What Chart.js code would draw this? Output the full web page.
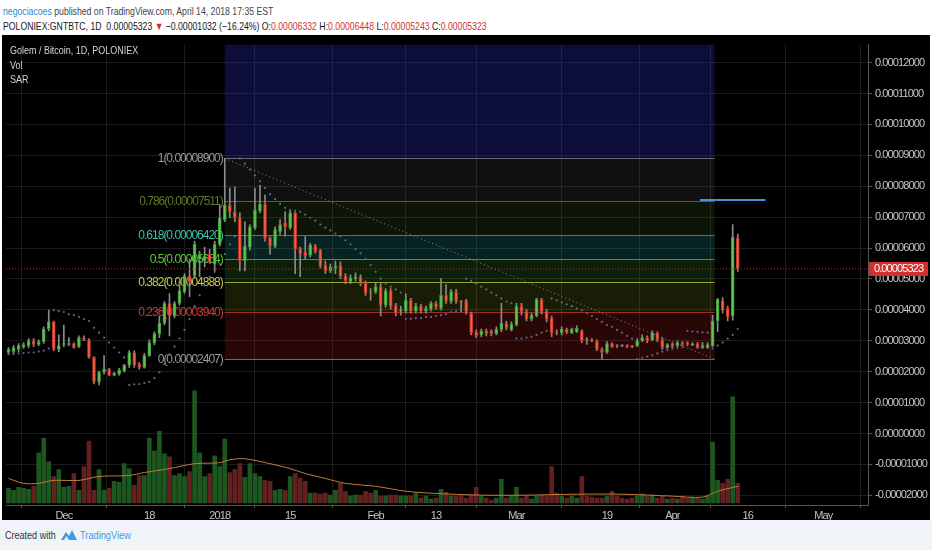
<!DOCTYPE html>
<html>
<head>
<meta charset="utf-8">
<script src="https://cdn.jsdelivr.net/npm/chart.js@4.4.1/dist/chart.umd.min.js"></script>
<style>
  body { margin:0; width:932px; height:550px; background:#fff; position:relative; overflow:hidden;
         font-family:"Liberation Sans",Arial,sans-serif; }
  .cond { transform-origin:0 0; white-space:nowrap; }
  #hdr1 { position:absolute; left:3px; top:4px; font-size:11px; line-height:14px; color:#444; transform:scaleX(0.79); }
  #hdr1 .u { color:#2a8bd8; }
  #hdr2 { position:absolute; left:3px; top:19px; font-size:11px; line-height:14px; color:#131722; transform:scaleX(0.79); }
  #hdr2 .r { color:#d32f2f; }
  #wrap { position:absolute; left:2px; top:35px; width:928px; height:485px; background:#000; }
  #legend { position:absolute; left:8px; top:8px; font-size:11.5px; line-height:14.5px; color:#d4d4d4; transform:scaleX(0.78); }
  #foot { position:absolute; left:0; top:520px; width:932px; height:30px; background:#f0f3f7; }
  #foot .t { position:absolute; left:5px; top:9px; font-size:10.5px; color:#333; transform:scaleX(0.86); }
  #foot svg { position:absolute; left:61px; top:9px; }
  #foot .tv { position:absolute; left:80px; top:9px; font-size:11px; color:#3d9ae8; transform:scaleX(0.84); }
</style>
</head>
<body>
<div id="hdr1" class="cond"><span class="u">negociacoes</span> published on TradingView.com, April 14, 2018 17:35 EST</div>
<div id="hdr2" class="cond">POLONIEX:GNTBTC, 1D&nbsp; 0.00005323 <span class="r">▼</span> −0.00001032 (−16.24%) O:<span class="r">0.00006332</span> H:<span class="r">0.00006448</span> L:<span class="r">0.00005243</span> C:<span class="r">0.00005323</span></div>
<div id="wrap">
  <canvas id="c" width="928" height="485"></canvas>
  <div id="legend" class="cond">Golem / Bitcoin, 1D, POLONIEX<br>Vol<br>SAR</div>
</div>
<div id="foot">
  <span class="t cond">Created with</span>
  <svg width="16" height="12" viewBox="0 0 16 12"><path d="M0 11 L5 3 L8 7 L11 1 L16 11 Z" fill="#3d9ae8"/><path d="M3 11 L5.5 7 L8 11 Z" fill="#f0f3f7"/></svg>
  <span class="tv cond">TradingView</span>
</div>
<script>
// day 0 = 1 Dec 2017, one candle per day; prices in satoshi (1e-8 BTC)
const firstDay = -11;

const open = [
  2620,2650,2720,2810,2840,3000,2880,2970,3380,3610,
  2720,2880,2880,2910,2810,3100,3030,2460,1670,1980,
  2080,1890,1920,2020,2210,2620,2240,2140,2520,2940,
  3230,3570,4210,3800,4210,4590,5100,5100,5640,5580,
  5800,5480,6120,6920,7390,7170,6980,5580,6030,6660,
  7200,7430,6340,6060,6530,6820,6660,7140,6000,5870,
  5770,6060,5930,5450,5260,5360,5450,5100,4910,5010,
  5070,4880,4590,4590,4750,4150,4620,4150,3960,3960,
  4310,3960,4120,3960,4020,4210,4050,4470,4270,4590,
  4270,4300,3890,3290,3190,3320,3320,3230,3350,3570,
  3350,3510,4120,3960,3700,3800,4340,3960,3730,3290,
  3260,3380,3260,3290,3320,3030,3020,3000,2720,2620,
  2910,2840,2840,2830,2830,2840,3000,3100,3030,3260,
  3030,2780,2910,2840,2940,2940,2890,2910,2780,2780,
  2840,3640,4300,4050,3800,6332
];
const high = [
  2780,2840,2910,2940,3070,3070,3030,3450,3990,3640,
  3190,3510,3100,2940,3160,3160,3070,2490,2020,2520,
  2110,1980,2110,2240,2680,2680,2300,2590,3030,3290,
  3800,4270,4530,4270,4940,5170,5640,6220,5900,6030,
  5960,6220,7390,8900,7940,7970,7140,6850,6760,7940,
  8030,7710,6370,6690,6920,7170,7200,7150,6030,6370,
  6150,6120,5960,5580,5480,5580,5550,5170,5130,5200,
  5130,4940,4690,4880,4850,4690,4690,4210,4120,4530,
  4370,4210,4180,4120,4270,4270,5010,4820,4660,4660,
  4300,4340,3930,3350,3380,3380,3350,3450,4210,3640,
  3610,4210,4210,4020,3890,4370,4370,4020,3800,3350,
  3450,3410,3410,3480,3350,3100,3070,3030,2780,2970,
  2940,2880,2880,2880,2840,3070,3190,3160,3320,3290,
  3100,2910,2940,3000,2970,2970,2940,2940,2940,2940,
  3830,4370,4400,4120,6760,6448
];
const low = [
  2560,2590,2650,2750,2780,2810,2840,2910,3320,2680,
  2650,2810,2840,2750,2780,3000,2430,1600,1570,1920,
  1860,1860,1890,1980,2140,2140,2080,2110,2490,2870,
  3100,3510,3160,3740,4150,4530,4430,5070,5070,5390,
  5500,5260,6060,6850,6980,6850,5260,5260,5930,6600,
  7140,6220,5800,6000,6440,6380,6600,5170,5070,5640,
  5710,5830,5360,5170,5200,5170,5010,4850,4850,4940,
  4780,4470,4310,4530,3800,4080,4020,3800,3830,3890,
  3890,3890,3890,3890,3960,4020,3990,4210,4210,4210,
  3930,3860,3190,3100,3130,3160,3160,3190,3290,3350,
  3320,3480,3830,3640,3640,3770,3860,3610,3130,3190,
  3190,3230,3230,3260,2940,2880,2970,2680,2407,2590,
  2780,2780,2810,2780,2780,2810,2970,2940,3000,2970,
  2720,2750,2780,2810,2840,2840,2840,2750,2750,2750,
  2810,3290,3890,3640,3670,5243
];
const close = [
  2720,2780,2840,2880,3000,2880,2970,3380,3610,2720,
  2840,2910,2910,2780,3100,3030,2460,1670,1980,2080,
  1890,1950,2050,2210,2620,2210,2140,2520,2940,3230,
  3570,4210,3800,4210,4620,5100,4910,6120,5800,5740,
  5550,6120,6980,7390,7170,6980,5580,6060,6690,7230,
  7430,6310,6060,6600,6760,6690,7140,5960,5800,5740,
  6090,5900,5420,5260,5390,5420,5070,4940,5040,5070,
  4850,4530,4560,4750,4150,4620,4110,3890,3990,4310,
  3960,4120,3960,4050,4210,4080,4470,4270,4590,4270,
  4260,3930,3260,3160,3320,3230,3230,3380,3570,3410,
  3540,4120,3930,3700,3830,4340,3930,3700,3260,3260,
  3380,3260,3380,3410,3000,3020,3000,2720,2620,2910,
  2810,2830,2830,2810,2810,3000,3100,3000,3260,3030,
  2780,2880,2810,2940,2880,2880,2890,2780,2840,2880,
  3640,4340,3980,3770,6355,5323
];
// volume, read as bar height (relative units)
const volume = [
  15,13,16,15,14,17,51,66,42,27,
  34,16,17,30,13,37,63,13,34,13,
  15,22,21,40,35,18,28,28,66,53,
  73,50,47,28,30,27,32,114,51,27,
  30,48,37,65,31,34,40,26,40,30,
  27,23,22,13,14,13,27,30,25,22,
  10,10,9,10,8,13,20,12,7,8,
  8,12,10,13,7,7,8,8,7,7,
  7,10,5,7,4,5,14,11,7,7,
  8,5,8,16,7,5,3,5,24,5,
  7,16,5,7,4,7,8,7,37,10,
  7,5,7,5,27,7,6,5,5,7,
  12,7,5,4,5,7,9,7,8,5,
  7,4,5,4,7,5,6,5,4,7,
  62,23,20,24,108,20
];
const volMaDays   = [-11,-8,-5,-2,3,7,13,16,21,26,31,33,36,41,45,48,52,56,62,68,73,83,92,102,111,121,127,130,134];
const volMaValues = [25,20,20,23,23,27,28,31,35,40,41,44,45,40,35,30,25,20,17,12,10,8,8,9,9,7,6,12,17];
// parabolic SAR, one value per candle
const sar = [
  2560,2570,2590,2600,2620,2620,2650,2680,2750,
  3990,3960,3930,3860,3830,3770,3700,3640,3420,3260,3100,2940,2780,2620,2460,
  1570,1590,1600,1630,1670,1790,1980,2240,2560,2810,3070,3350,3700,4120,4470,4790,5070,5230,5480,5800,6120,6380,
  8900,8730,8540,8350,8160,7940,7740,7580,7430,7300,7230,7200,7170,7080,6980,6890,6760,6660,6570,6470,6380,6250,6120,5960,5830,5640,5450,5230,5010,4850,4750,4660,4560,
  3710,3710,3730,3730,3770,3770,3800,3830,3860,3930,3960,4020,
  5010,4940,4850,4750,4660,4560,4470,4370,4270,4210,
  3070,3070,3100,3130,3190,3260,3320,
  4370,4310,4240,4180,4120,4050,3990,3890,3800,3700,3610,3510,3450,3350,3260,3160,3070,
  2407,2450,2490,2530,2590,2650,2700,2740,2770,2790,
  3320,3300,3290,3270,3260,
  2750,2840,2940,3070,3190,3380
];

// fib retracement drawn on the chart
const fibRatios = [1, 0.786, 0.618, 0.5, 0.382, 0.236, 0];
const fibPrices = [8900, 7511, 6420, 5654, 4888, 3940, 2407];
const fibLine   = ["#6a6a6a", "#52642a", "#2a8a7c", "#3e9a36", "#98a22c", "#a02c28", "#6a6a6a"];
const fibText   = ["#9a9a9a", "#5f7a2a", "#3cc2a4", "#5cc83c", "#c8cc3a", "#d03a34", "#9a9a9a"];
const fibFill   = ["rgba(110,110,110,0.15)", "rgba(90,150,40,0.15)", "rgba(30,160,150,0.22)",
                   "rgba(60,170,50,0.18)", "rgba(150,170,30,0.17)", "rgba(170,30,30,0.24)"];
const fibTopFill = "rgba(40,44,190,0.3)";
const fibDays = [32, 129.4];
const trendDays = [32, 129.4], trendPrices = [8900, 2407];
const targetDays = [126.5, 139.5], targetPrice = 7553;
const lastPrice = 5323;

const tickDays   = [0, 17, 31, 45, 62, 74, 90, 108, 121, 136, 151];
const tickLabels = ["Dec", "18", "2018", "15", "Feb", "13", "Mar", "19", "Apr", "16", "May"];
const priceTicks = [-2000,-1000,0,1000,2000,3000,4000,5000,6000,7000,8000,9000,10000,11000,12000];
const dayRange = [-11.5, 159.9], priceRange = [-2314, 12582];

const days = open.map((_, i) => firstDay + i);
const isUp = (i) => close[i] >= open[i];
const FONT = '"Liberation Sans",Arial,sans-serif';
const TIGHT = "-0.9px"; // no narrow font installed, squeeze the canvas text instead

const fibPlugin = {
  id: "fib",
  beforeDraw(chart) { chart.ctx.letterSpacing = TIGHT; },
  beforeDatasetsDraw(chart) {
    const { ctx, chartArea: a, scales: { x, y } } = chart;
    const x0 = x.getPixelForValue(fibDays[0]), x1 = x.getPixelForValue(fibDays[1]);
    ctx.save();
    ctx.beginPath(); ctx.rect(a.left, a.top, a.width, a.height); ctx.clip();
    ctx.fillStyle = fibTopFill;
    ctx.fillRect(x0, a.top, x1 - x0, y.getPixelForValue(fibPrices[0]) - a.top);
    for (let i = 0; i < fibFill.length; i++) {
      const t = y.getPixelForValue(fibPrices[i]), b = y.getPixelForValue(fibPrices[i + 1]);
      ctx.fillStyle = fibFill[i];
      ctx.fillRect(x0, t, x1 - x0, b - t);
    }
    ctx.font = "12px " + FONT;
    ctx.letterSpacing = "-1px";
    ctx.textAlign = "right"; ctx.textBaseline = "middle";
    fibPrices.forEach((p, i) => {
      const py = Math.round(y.getPixelForValue(p)) + 0.5;
      ctx.strokeStyle = fibLine[i]; ctx.lineWidth = 1;
      ctx.beginPath(); ctx.moveTo(x0, py); ctx.lineTo(x1, py); ctx.stroke();
      ctx.fillStyle = fibText[i];
      ctx.fillText(`${fibRatios[i]}(${(p / 1e8).toFixed(8)})`, x0 - 2, py);
    });
    ctx.restore();
  },
  afterDraw(chart) {
    const { ctx, chartArea: a, scales: { y } } = chart;
    const py = y.getPixelForValue(lastPrice);
    ctx.save();
    ctx.fillStyle = "#d32f2f";
    ctx.fillRect(a.right + 1, py - 7, 59, 14);
    ctx.fillStyle = "#fff";
    ctx.font = "11px " + FONT;
    ctx.letterSpacing = TIGHT;
    ctx.textBaseline = "middle";
    ctx.fillText((lastPrice / 1e8).toFixed(8), a.right + 6, py + 0.5);
    ctx.restore();
  }
};

new Chart(document.getElementById("c"), {
  type: "bar",
  data: {
    datasets: [
      { type: "line", data: dayRange.map((d) => ({ x: d, y: lastPrice })),
        borderColor: "#c62828", borderWidth: 1, borderDash: [1, 2], pointRadius: 0 },
      { type: "line", data: targetDays.map((d) => ({ x: d, y: targetPrice })),
        borderColor: "#4a90d9", borderWidth: 2, pointRadius: 0 },
      { type: "line", data: trendDays.map((d, i) => ({ x: d, y: trendPrices[i] })),
        borderColor: "#8c8c8c", borderWidth: 1, borderDash: [1, 3], pointRadius: 0 },
      { type: "line", data: days.map((d, i) => ({ x: d, y: sar[i] })), showLine: false,
        pointRadius: 1.1, pointBorderWidth: 0, pointBackgroundColor: "#5d6890" },
      { data: days.map((d, i) => ({ x: d, y: [open[i], close[i]] })), grouped: false,
        barThickness: 3, minBarLength: 1, borderWidth: 1, borderSkipped: false,
        backgroundColor: days.map((_, i) => isUp(i) ? "#64c452" : "#ec6440"),
        borderColor: days.map((_, i) => isUp(i) ? "#3a9a36" : "#c3302a") },
      { data: days.map((d, i) => ({ x: d, y: [low[i], high[i]] })), grouped: false,
        barThickness: 1, backgroundColor: "#8a8a8a" },
      { type: "line", yAxisID: "yv", data: volMaDays.map((d, i) => ({ x: d, y: volMaValues[i] })),
        borderColor: "#c47a3c", borderWidth: 1, pointRadius: 0, tension: 0.3 },
      { yAxisID: "yv", data: days.map((d, i) => ({ x: d, y: volume[i] })), grouped: false,
        barThickness: 4, backgroundColor: days.map((_, i) => isUp(i) ? "#1d571f" : "#632020") }
    ]
  },
  options: {
    responsive: false, animation: false, events: [],
    layout: { padding: { top: 2, left: 0, right: 0, bottom: 0 } },
    plugins: { legend: { display: false }, tooltip: { enabled: false } },
    scales: {
      x: {
        type: "linear", min: dayRange[0], max: dayRange[1], offset: false,
        afterBuildTicks: (s) => { s.ticks = tickDays.map((v) => ({ value: v })); },
        afterFit: (s) => { s.height = 15; },
        ticks: { autoSkip: false, maxRotation: 0, padding: 1, color: "#c4c4c4",
                 font: { size: 11, family: FONT },
                 callback: (v) => tickLabels[tickDays.indexOf(v)] },
        grid: { color: "#1c1c1c", tickColor: "#555", tickLength: 3 },
        border: { color: "#555" }
      },
      y: {
        position: "right", min: priceRange[0], max: priceRange[1],
        afterBuildTicks: (s) => { s.ticks = priceTicks.map((v) => ({ value: v })); },
        afterFit: (s) => { s.width = 62; },
        ticks: { padding: 3, color: "#c4c4c4", font: { size: 11, family: FONT },
                 callback: (v) => (v / 1e8).toFixed(8) },
        grid: { color: "#1c1c1c", tickColor: "#555", tickLength: 4 },
        border: { color: "#555" }
      },
      yv: { display: false, min: -2, max: 466 }
    }
  },
  plugins: [fibPlugin]
});
</script>
</body>
</html>
